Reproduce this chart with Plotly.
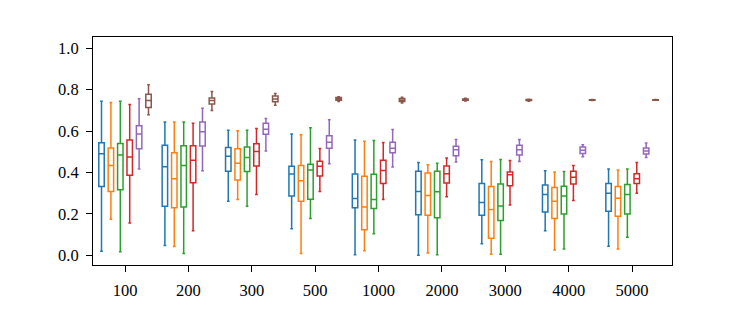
import plotly.graph_objects as go

categories = ["100", "200", "300", "500", "1000", "2000", "3000", "4000", "5000"]
series_names = ["s1", "s2", "s3", "s4", "s5", "s6"]
colors = ["#1f77b4", "#ff7f0e", "#2ca02c", "#d62728", "#9467bd", "#8c564b"]

# per series: lists over categories
lower = [
    [0.019, 0.047, 0.261, 0.128, 0.003, 0.000, 0.056, 0.118, 0.044],
    [0.174, 0.042, 0.269, 0.009, 0.022, 0.011, 0.005, 0.025, 0.030],
    [0.017, 0.008, 0.237, 0.177, 0.104, 0.003, 0.005, 0.030, 0.087],
    [0.156, 0.118, 0.294, 0.308, 0.269, 0.283, 0.243, 0.265, 0.300],
    [0.416, 0.408, 0.504, 0.442, 0.426, 0.450, 0.453, 0.476, 0.472],
    [0.679, 0.699, 0.725, 0.743, 0.735, 0.745, 0.744, 0.747, 0.748],
]
q1 = [
    [0.332, 0.237, 0.406, 0.286, 0.230, 0.196, 0.193, 0.209, 0.213],
    [0.308, 0.230, 0.363, 0.261, 0.123, 0.193, 0.082, 0.177, 0.188],
    [0.316, 0.233, 0.405, 0.271, 0.226, 0.181, 0.168, 0.199, 0.199],
    [0.386, 0.350, 0.431, 0.383, 0.347, 0.349, 0.336, 0.344, 0.347],
    [0.514, 0.528, 0.584, 0.517, 0.495, 0.481, 0.484, 0.492, 0.489],
    [0.713, 0.731, 0.741, 0.748, 0.742, 0.748, 0.747, 0.749, 0.749],
]
median = [
    [0.490, 0.428, 0.478, 0.392, 0.274, 0.308, 0.255, 0.293, 0.300],
    [0.434, 0.369, 0.444, 0.360, 0.233, 0.289, 0.221, 0.261, 0.275],
    [0.484, 0.434, 0.472, 0.412, 0.269, 0.307, 0.238, 0.286, 0.293],
    [0.475, 0.459, 0.501, 0.430, 0.409, 0.394, 0.389, 0.377, 0.370],
    [0.585, 0.596, 0.609, 0.546, 0.517, 0.509, 0.510, 0.507, 0.503],
    [0.747, 0.747, 0.755, 0.755, 0.749, 0.752, 0.749, 0.749, 0.750],
]
q3 = [
    [0.543, 0.531, 0.521, 0.430, 0.392, 0.406, 0.347, 0.339, 0.347],
    [0.518, 0.495, 0.514, 0.433, 0.381, 0.397, 0.332, 0.327, 0.332],
    [0.540, 0.529, 0.523, 0.440, 0.391, 0.406, 0.344, 0.333, 0.342],
    [0.557, 0.529, 0.539, 0.454, 0.459, 0.431, 0.402, 0.406, 0.394],
    [0.626, 0.643, 0.637, 0.577, 0.546, 0.526, 0.531, 0.523, 0.518],
    [0.777, 0.760, 0.769, 0.762, 0.757, 0.755, 0.752, 0.751, 0.751],
]
upper = [
    [0.744, 0.644, 0.604, 0.585, 0.557, 0.448, 0.461, 0.408, 0.417],
    [0.738, 0.644, 0.601, 0.582, 0.551, 0.437, 0.453, 0.402, 0.412],
    [0.744, 0.644, 0.604, 0.616, 0.554, 0.444, 0.462, 0.405, 0.417],
    [0.728, 0.638, 0.612, 0.515, 0.545, 0.470, 0.458, 0.434, 0.448],
    [0.756, 0.710, 0.660, 0.654, 0.607, 0.559, 0.559, 0.534, 0.542],
    [0.823, 0.791, 0.781, 0.765, 0.763, 0.758, 0.754, 0.752, 0.752],
]

y_ticks = [0.0, 0.2, 0.4, 0.6, 0.8, 1.0]
y_tick_text = ["0.0", "0.2", "0.4", "0.6", "0.8", "1.0"]

fig = go.Figure()
for i, name in enumerate(series_names):
    fig.add_trace(go.Box(
        name=name,
        x=categories,
        lowerfence=lower[i], q1=q1[i], median=median[i], q3=q3[i], upperfence=upper[i],
        line=dict(color=colors[i], width=1.5),
        fillcolor="rgba(255,255,255,0)",
        whiskerwidth=0.5,
        boxpoints=False,
        hoverinfo="skip",
    ))

font_family = "Liberation Serif, DejaVu Serif, serif"
fig.update_layout(
    width=747, height=312,
    margin=dict(l=93, r=75, t=37, b=39),
    paper_bgcolor="white", plot_bgcolor="white",
    boxmode="group", boxgap=0.11, boxgroupgap=0.42,
    showlegend=False,
    font=dict(family=font_family, size=16.5, color="black"),
)
fig.update_xaxes(
    type="category", categoryorder="array", categoryarray=categories,
    range=[-0.505, 8.63],
    showline=True, linecolor="black", linewidth=1, mirror=True,
    ticks="outside", ticklen=6, tickwidth=1, tickcolor="black",
    ticklabelstandoff=4,
    showgrid=False, zeroline=False,
)
fig.update_yaxes(
    range=[-0.047, 1.054],
    tickvals=y_ticks, ticktext=y_tick_text,
    showline=True, linecolor="black", linewidth=1, mirror=True,
    ticks="outside", ticklen=6, tickwidth=1, tickcolor="black",
    ticklabelstandoff=4,
    showgrid=False, zeroline=False,
)
fig.write_html("out.html", config={"displayModeBar": False},
               post_script="document.body.style.margin='0';")
